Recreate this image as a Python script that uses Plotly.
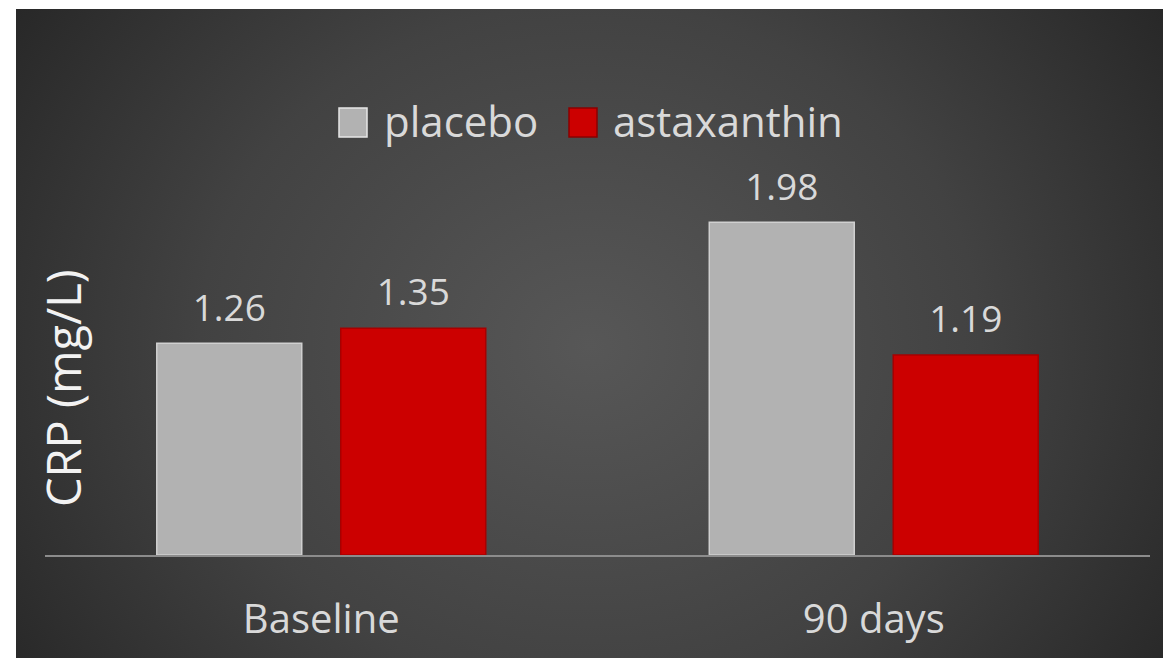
import base64
import plotly.graph_objects as go

# ---- data ----
categories = ["Baseline", "90 days"]
series_names = ["placebo", "astaxanthin"]
placebo = [1.26, 1.98]
astaxanthin = [1.35, 1.19]
y_title = "CRP (mg/L)"

W, H = 1163, 658
FONT = "Open Sans"
LABEL_COLOR = "#d9d9d9"
GRAY = "#b2b2b2"
RED = "#cc0000"

BARGAP = 0.334
GROUPGAP = 0.212

# radial gradient background as an SVG image
svg = (
    '<svg xmlns="http://www.w3.org/2000/svg" width="1147" height="649" '
    'viewBox="0 0 1147 649" preserveAspectRatio="none">'
    '<defs><radialGradient id="g" cx="50%" cy="52%" r="62%" '
    'gradientTransform="translate(0.5,0.52) scale(1,1.55) translate(-0.5,-0.52)">'
    '<stop offset="0%" stop-color="#575757"/>'
    '<stop offset="55%" stop-color="#424242"/>'
    '<stop offset="100%" stop-color="#262626"/>'
    '</radialGradient></defs>'
    '<rect width="1147" height="649" fill="url(#g)"/></svg>'
)
svg_uri = "data:image/svg+xml;base64," + base64.b64encode(svg.encode()).decode()

fig = go.Figure()

fig.add_trace(go.Bar(
    x=categories, y=placebo, name=series_names[0],
    marker=dict(color=GRAY, line=dict(color="#d0d0d0", width=1.5)),
    offsetgroup="p", showlegend=False, hoverinfo="skip",
))
fig.add_trace(go.Bar(
    x=categories, y=astaxanthin, name=series_names[1],
    marker=dict(color=RED, line=dict(color="#a80000", width=1.5)),
    offsetgroup="a", showlegend=False, hoverinfo="skip",
))

# data labels (text-only scatter aligned with bar groups)
for vals, grp in ((placebo, "p"), (astaxanthin, "a")):
    fig.add_trace(go.Scatter(
        x=categories, y=vals, mode="markers+text",
        text=[f"{v:.2f}" for v in vals], textposition="top center",
        textfont=dict(family=FONT, size=37, color=LABEL_COLOR),
        marker=dict(size=20, opacity=0),
        offsetgroup=grp, showlegend=False, hoverinfo="skip", cliponaxis=False,
    ))

# y-axis title
annotations = [dict(
    text=y_title, x=63 / W, y=1 - 388 / H, xref="paper", yref="paper",
    textangle=-90, showarrow=False, xanchor="center", yanchor="middle",
    font=dict(family=FONT, size=47, color="#f2f2f2"),
)]

# custom legend
legend_items = [(series_names[0], GRAY, "#e6e6e6", 339, 382),
                (series_names[1], RED, "#8a0000", 569, 611)]
shapes = []
for name, col, edge, sx, tx in legend_items:
    shapes.append(dict(type="rect", xref="paper", yref="paper",
                       x0=sx / W, x1=(sx + 28) / W, y0=1 - 137 / H, y1=1 - 108 / H,
                       fillcolor=col, line=dict(color=edge, width=1.5), layer="above"))
    annotations.append(dict(text=name, x=tx / W, y=1 - 121 / H, xref="paper", yref="paper",
                            showarrow=False, xanchor="left", yanchor="middle",
                            font=dict(family=FONT, size=42, color=LABEL_COLOR)))

fig.update_layout(
    width=W, height=H,
    margin=dict(l=0, r=0, t=0, b=0),
    paper_bgcolor="white", plot_bgcolor="rgba(0,0,0,0)",
    barmode="group", bargap=BARGAP, bargroupgap=GROUPGAP,
    scattermode="group", scattergap=BARGAP,
    images=[dict(source=svg_uri, xref="paper", yref="paper",
                 x=16 / W, y=1 - 9 / H, sizex=1147 / W, sizey=649 / H,
                 xanchor="left", yanchor="top", sizing="stretch", layer="below")],
    xaxis=dict(domain=[45 / W, 1150 / W], showline=True, linecolor="#8c8c8c", linewidth=2,
               ticks="", showgrid=False, ticklabelstandoff=28,
               tickfont=dict(family=FONT, size=40, color=LABEL_COLOR), fixedrange=True),
    yaxis=dict(domain=[1 - 555 / H, 1 - 135 / H], range=[0, 2.5], visible=False,
               showgrid=False, zeroline=False, fixedrange=True),
    annotations=annotations, shapes=shapes,
    showlegend=False,
)

fig.write_html("out.html")
